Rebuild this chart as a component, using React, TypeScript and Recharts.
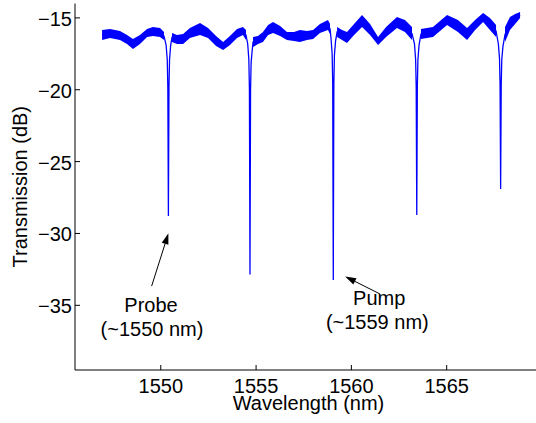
import React from "react";
import {
  ComposedChart,
  Area,
  Line,
  XAxis,
  YAxis,
  ReferenceLine,
  ReferenceDot,
} from "recharts";

const bandWl = [
  1546.92, 1547.34, 1547.86, 1548.23, 1548.54, 1548.91, 1549.28, 1549.59, 1549.96, 1550.17,
  1550.59, 1550.85, 1551.17, 1551.53, 1552.06, 1552.48, 1552.9, 1553.27, 1553.63, 1554.0,
  1554.31, 1554.47, 1554.84, 1555.1, 1555.36, 1555.63, 1555.89, 1556.26, 1556.62, 1556.99,
  1557.3, 1557.67, 1557.99, 1558.35, 1558.77, 1558.88, 1559.25, 1559.51, 1559.77, 1560.14,
  1560.56, 1560.98, 1561.4, 1561.82, 1562.39, 1562.81, 1563.18, 1563.65, 1564.28, 1565.02,
  1565.59, 1566.07, 1566.49, 1566.91, 1567.27, 1567.59, 1568.06, 1568.32, 1568.59, 1568.85,
];
const bandHi = [
  -15.84, -15.77, -15.91, -16.19, -16.47, -16.19, -15.77, -15.64, -15.7, -15.98,
  -16.05, -16.19, -16.12, -15.7, -15.36, -15.7, -16.26, -16.68, -16.26, -15.77,
  -15.64, -15.84, -16.33, -16.26, -15.98, -15.5, -15.29, -15.57, -15.98, -15.98,
  -15.84, -15.91, -15.84, -15.43, -15.15, -15.43, -15.64, -15.84, -15.98, -15.43,
  -14.8, -15.43, -16.33, -15.64, -14.94, -15.15, -15.64, -15.77, -15.64, -14.8,
  -15.15, -15.7, -15.15, -14.66, -15.01, -15.5, -15.64, -14.94, -14.73, -14.59,
];
const bandLo = [
  -16.54, -16.4, -16.54, -16.82, -17.17, -16.82, -16.33, -16.26, -16.33, -16.54,
  -16.68, -16.82, -16.82, -16.4, -16.19, -16.4, -16.96, -17.24, -16.89, -16.4,
  -16.19, -16.54, -17.03, -16.82, -16.68, -16.19, -16.05, -16.26, -16.54, -16.61,
  -16.68, -16.54, -16.47, -16.05, -15.84, -16.12, -16.33, -16.54, -16.75, -16.19,
  -15.64, -16.19, -16.89, -16.33, -15.7, -15.98, -16.54, -16.47, -16.33, -15.5,
  -15.98, -16.54, -15.84, -15.29, -15.84, -16.33, -16.68, -15.84, -15.43, -15.01,
];

// Resonance dips (wavelength nm, transmission dB)
const dipWl = [
  1550.28, 1550.34, 1550.37, 1550.4, 1550.43, 1550.46, 1550.52,
  1554.56, 1554.62, 1554.65, 1554.68, 1554.71, 1554.74, 1554.8,
  1558.93, 1558.99, 1559.02, 1559.05, 1559.08, 1559.11, 1559.17,
  1563.31, 1563.37, 1563.4, 1563.43, 1563.46, 1563.49, 1563.55,
  1567.71, 1567.77, 1567.8, 1567.83, 1567.86, 1567.89, 1567.95,
];
const dipT = [
  -16.9, -17.9, -19.8, -28.78, -19.8, -17.9, -16.9,
  -16.8, -17.9, -19.9, -32.85, -20.0, -18.1, -17.2,
  -16.4, -17.5, -19.5, -33.24, -19.6, -17.6, -16.6,
  -16.8, -17.9, -19.8, -28.72, -19.8, -17.9, -16.9,
  -16.8, -17.8, -19.6, -26.91, -19.7, -17.9, -17.0,
];

const xTicks = [1550, 1555, 1560, 1565];
const yTicks = [-35, -30, -25, -20, -15];

const rows = [
  ...bandWl.map((wl, i) => ({
    wl,
    band: [bandLo[i], bandHi[i]],
    trace: (bandLo[i] + bandHi[i]) / 2,
  })),
  ...dipWl.map((wl, i) => ({ wl, trace: dipT[i] })),
].sort((a, b) => a.wl - b.wl);

const FONT = '"Liberation Sans", Arial, Helvetica, sans-serif';
const BLUE = "#0000ff";

const BottomTick = (props: any) => {
  const { x, y, payload } = props;
  return (
    <g>
      <line x1={x} x2={x} y1={y} y2={y - 5} stroke="#000" />
      <text x={x} y={y + 23} textAnchor="middle" fontSize={20} fontFamily={FONT} fill="#000">
        {payload.value}
      </text>
    </g>
  );
};

const TopTick = (props: any) => {
  const { x, y } = props;
  return <line x1={x} x2={x} y1={y} y2={y + 5} stroke="#000" />;
};

const LeftTick = (props: any) => {
  const { x, y, payload } = props;
  return (
    <g>
      <line x1={x} x2={x + 5} y1={y} y2={y} stroke="#000" />
      <text x={x - 3} y={y + 8} textAnchor="end" fontSize={20} fontFamily={FONT} fill="#000">
        {String(payload.value).replace("-", "\u2212")}
      </text>
    </g>
  );
};

const xLabel = (props: any) => {
  const vb = props.viewBox;
  return (
    <text
      x={vb.x + vb.width / 2}
      y={410}
      textAnchor="middle"
      fontSize={20}
      fontFamily={FONT}
      fill="#000"
    >
      Wavelength (nm)
    </text>
  );
};

const yLabel = (props: any) => {
  const vb = props.viewBox;
  const cy = vb.y + vb.height / 2;
  return (
    <text
      transform={`translate(27, ${cy}) rotate(-90)`}
      textAnchor="middle"
      fontSize={20}
      fontFamily={FONT}
      fill="#000"
    >
      Transmission (dB)
    </text>
  );
};

const Arrow = (props: any) => {
  const { x1, y1, x2, y2 } = props;
  const dx = x2 - x1;
  const dy = y2 - y1;
  const len = Math.sqrt(dx * dx + dy * dy);
  const ux = dx / len;
  const uy = dy / len;
  const hl = 11;
  const hw = 3.5;
  const bx = x2 - ux * hl;
  const by = y2 - uy * hl;
  return (
    <g>
      <line x1={x1} y1={y1} x2={bx} y2={by} stroke="#000" strokeWidth={1} />
      <polygon
        points={`${x2},${y2} ${bx - uy * hw},${by + ux * hw} ${bx + uy * hw},${by - ux * hw}`}
        fill="#000"
      />
    </g>
  );
};

const note = (text: string) => (props: any) => (
  <text x={props.cx} y={props.cy} textAnchor="middle" fontSize={20} fontFamily={FONT} fill="#000">
    {text}
  </text>
);

export default function App() {
  return (
    <div
      style={{
        position: "fixed",
        left: 0,
        top: 0,
        width: 536,
        height: 423,
        overflow: "hidden",
        background: "#fff",
      }}
    >
      <ComposedChart
        width={560}
        height={423}
        data={rows}
        margin={{ top: 3.5, right: 18, bottom: 0, left: 0 }}
      >
        <XAxis
          dataKey="wl"
          type="number"
          domain={[1545.5, 1570]}
          ticks={xTicks}
          allowDataOverflow
          height={53}
          tickSize={0}
          tickMargin={0}
          tickLine={false}
          tick={<BottomTick />}
          axisLine={{ stroke: "#000" }}
          label={xLabel}
        />
        <XAxis
          xAxisId="top"
          orientation="top"
          dataKey="wl"
          type="number"
          domain={[1545.5, 1570]}
          ticks={xTicks}
          allowDataOverflow
          height={0}
          tickSize={0}
          tickMargin={0}
          tickLine={false}
          tick={<TopTick />}
          axisLine={{ stroke: "#000" }}
        />
        <YAxis
          type="number"
          domain={[-39.5, -14]}
          ticks={yTicks}
          allowDataOverflow
          width={75}
          tickSize={0}
          tickMargin={0}
          tickLine={false}
          tick={<LeftTick />}
          axisLine={{ stroke: "#000" }}
          label={yLabel}
        />
        <Area
          type="linear"
          dataKey="band"
          stroke="none"
          fill={BLUE}
          fillOpacity={1}
          isAnimationActive={false}
          dot={false}
          activeDot={false}
        />
        <Line
          type="linear"
          dataKey="trace"
          stroke={BLUE}
          strokeWidth={1.3}
          dot={false}
          activeDot={false}
          isAnimationActive={false}
        />
        <ReferenceLine
          segment={[
            { x: 1549.52, y: -33.66 },
            { x: 1550.4, y: -29.99 },
          ]}
          shape={<Arrow />}
        />
        <ReferenceLine
          segment={[
            { x: 1561.5, y: -34.21 },
            { x: 1559.67, y: -32.99 },
          ]}
          shape={<Arrow />}
        />
        <ReferenceDot x={1549.49} y={-35.44} r={0} shape={note("Probe")} />
        <ReferenceDot x={1549.54} y={-37.13} r={0} shape={note("(~1550 nm)")} />
        <ReferenceDot x={1561.46} y={-34.97} r={0} shape={note("Pump")} />
        <ReferenceDot x={1561.36} y={-36.65} r={0} shape={note("(~1559 nm)")} />
      </ComposedChart>
    </div>
  );
}
